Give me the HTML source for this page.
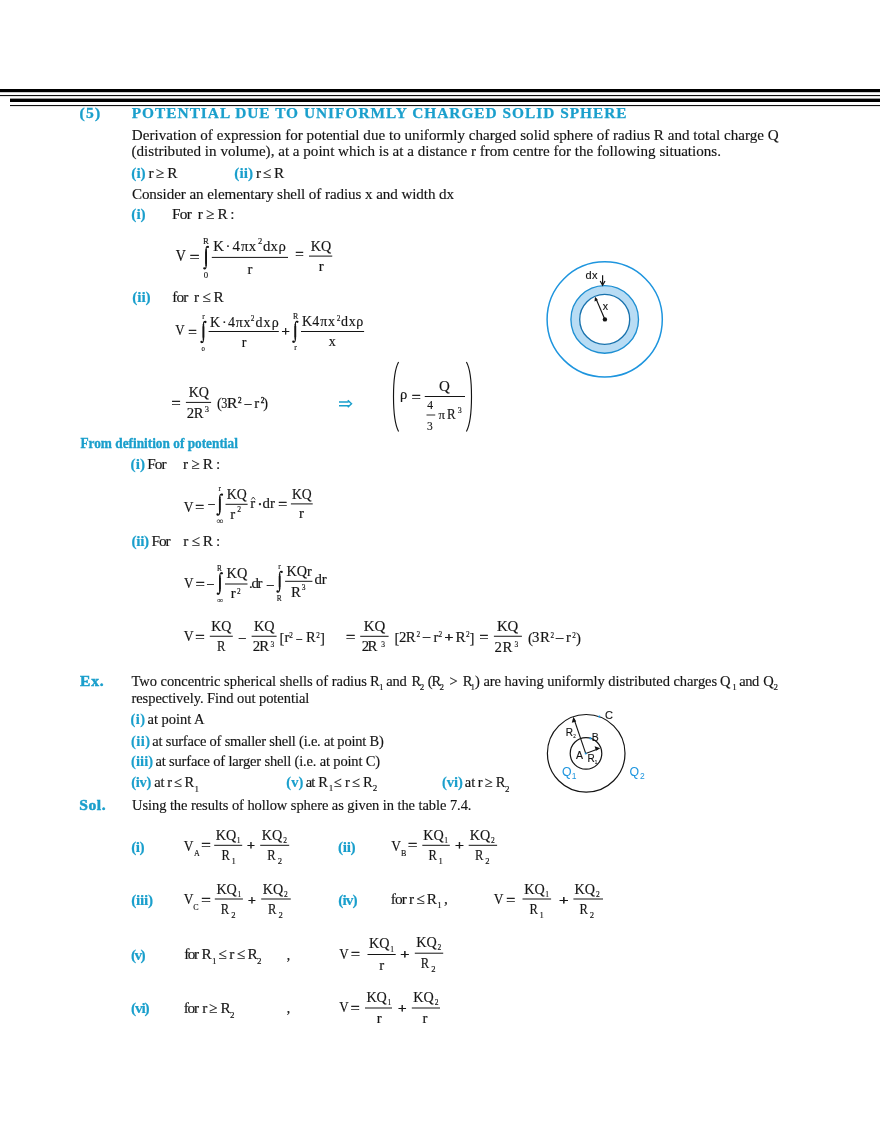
<!DOCTYPE html>
<html><head><meta charset="utf-8"><title>Potential due to uniformly charged solid sphere</title>
<style>
html,body{margin:0;padding:0;background:#fff;}
body{width:880px;height:1139px;overflow:hidden;}
svg{display:block;will-change:transform;font-family:"Liberation Serif",serif;font-size:15.3px;fill:#141414;}
</style></head>
<body>
<svg width="880" height="1139" viewBox="0 0 880 1139">
<rect x="0" y="89" width="880" height="3.2" fill="#000"/>
<rect x="0" y="95" width="880" height="1.1" fill="#111"/>
<rect x="10" y="98.6" width="870" height="3.4" fill="#000"/>
<rect x="10" y="105" width="870" height="1.1" fill="#111"/>
<text x="79.54" y="117.70" font-size="15.6" fill="#1a9fcc" font-weight="bold" textLength="20.64" stroke="#1a9fcc" stroke-width="0.35">(5)</text>
<text x="131.73" y="118.00" font-size="15.4" fill="#1a9fcc" font-weight="bold" textLength="494.86" stroke="#1a9fcc" stroke-width="0.25">POTENTIAL DUE TO UNIFORMLY CHARGED SOLID SPHERE</text>
<text x="131.78" y="139.60" font-size="15.1" textLength="646.99" stroke="#141414" stroke-width="0.15">Derivation of expression for potential due to uniformly charged solid sphere of radius R and total charge Q</text>
<text x="131.56" y="155.70" font-size="15.1" textLength="589.42" stroke="#141414" stroke-width="0.15">(distributed in volume), at a point which is at a distance r from centre for the following situations.</text>
<text x="131.35" y="178.25" fill="#1a9fcc" font-weight="bold" textLength="14.32" stroke="#1a9fcc" stroke-width="0.18">(i)</text>
<text x="148.44" y="178.25" stroke="#141414" stroke-width="0.15">r</text>
<text x="155.79" y="178.25" stroke="#141414" stroke-width="0.15">≥</text>
<text x="167.18" y="178.25" stroke="#141414" stroke-width="0.15">R</text>
<text x="234.35" y="178.25" fill="#1a9fcc" font-weight="bold" textLength="18.83" stroke="#1a9fcc" stroke-width="0.18">(ii)</text>
<text x="255.89" y="178.25" stroke="#141414" stroke-width="0.15">r</text>
<text x="262.75" y="178.25" stroke="#141414" stroke-width="0.15">≤</text>
<text x="273.98" y="178.25" stroke="#141414" stroke-width="0.15">R</text>
<text x="131.90" y="198.75" font-size="15.1" textLength="322.18" stroke="#141414" stroke-width="0.15">Consider an elementary shell of radius x and width dx</text>
<text x="131.35" y="219.25" fill="#1a9fcc" font-weight="bold" textLength="14.32" stroke="#1a9fcc" stroke-width="0.18">(i)</text>
<text x="172.08" y="219.25" textLength="19.66" stroke="#141414" stroke-width="0.15">For</text>
<text x="197.69" y="219.25" stroke="#141414" stroke-width="0.15">r</text>
<text x="205.99" y="219.25" stroke="#141414" stroke-width="0.15">≥</text>
<text x="217.38" y="219.25" stroke="#141414" stroke-width="0.15">R</text>
<text x="230.18" y="219.25" stroke="#141414" stroke-width="0.15">:</text>
<text x="175.74" y="261.10" font-size="16" textLength="10.05" lengthAdjust="spacingAndGlyphs" stroke="#141414" stroke-width="0.15">V</text>
<text x="189.85" y="262.19" font-size="15" textLength="9.68" lengthAdjust="spacingAndGlyphs" stroke="#141414" stroke-width="0.45">=</text>
<path d="M207.90,246.95 C207.20,245.95 206.10,246.55 206.10,249.35 L206.10,265.90 C206.10,268.70 205.00,269.30 204.30,268.30" fill="none" stroke="#141414" stroke-width="1.15"/>
<path d="M206.10,249.73 L206.10,265.52" fill="none" stroke="#141414" stroke-width="1.40" stroke-linecap="round"/>
<path d="M206.10,252.07 L206.10,263.18" fill="none" stroke="#141414" stroke-width="1.65" stroke-linecap="round"/>
<circle cx="207.90" cy="246.95" r="1.15" fill="#141414"/>
<circle cx="204.30" cy="268.30" r="1.15" fill="#141414"/>
<text x="203.06" y="243.70" font-size="8.7" stroke="#141414" stroke-width="0.14">R</text>
<text x="203.67" y="278.40" font-size="8.8" stroke="#141414" stroke-width="0.14">0</text>
<rect x="211.80" y="256.90" width="76.20" height="1.0" fill="#141414"/>
<text x="213.19" y="251.20" font-size="14.8" stroke="#141414" stroke-width="0.15">K</text>
<text x="225.41" y="251.20" font-size="14.8" stroke="#141414" stroke-width="0.15">·</text>
<text x="232.40" y="251.20" font-size="14.8" stroke="#141414" stroke-width="0.15">4</text>
<text x="241.01" y="251.20" font-size="14.8" stroke="#141414" stroke-width="0.15">π</text>
<text x="248.69" y="251.20" font-size="14.8" stroke="#141414" stroke-width="0.15">x</text>
<text x="258.04" y="244.20" font-size="8.5" stroke="#141414" stroke-width="0.14">2</text>
<text x="263.08" y="251.20" font-size="14.8" stroke="#141414" stroke-width="0.15">d</text>
<text x="270.39" y="251.20" font-size="14.8" stroke="#141414" stroke-width="0.15">x</text>
<text x="278.54" y="251.20" font-size="14.8" stroke="#141414" stroke-width="0.15">ρ</text>
<text x="247.55" y="273.70" font-size="14.8" stroke="#141414" stroke-width="0.15">r</text>
<text x="295.25" y="259.49" font-size="15" textLength="8.48" lengthAdjust="spacingAndGlyphs" stroke="#141414" stroke-width="0.45">=</text>
<rect x="309.00" y="255.60" width="23.25" height="1.0" fill="#141414"/>
<text x="310.84" y="250.50" font-size="14.8" textLength="20.41" lengthAdjust="spacingAndGlyphs" stroke="#141414" stroke-width="0.15">KQ</text>
<text x="318.70" y="271.25" font-size="14.8" stroke="#141414" stroke-width="0.15">r</text>
<text x="132.15" y="302.20" fill="#1a9fcc" font-weight="bold" textLength="18.53" stroke="#1a9fcc" stroke-width="0.18">(ii)</text>
<text x="172.14" y="302.20" textLength="16.19" stroke="#141414" stroke-width="0.15">for</text>
<text x="194.09" y="302.20" textLength="29.63" stroke="#141414" stroke-width="0.15">r ≤ R</text>
<text x="175.26" y="335.40" font-size="14" textLength="9.41" lengthAdjust="spacingAndGlyphs" stroke="#141414" stroke-width="0.15">V</text>
<text x="188.28" y="336.82" font-size="14.5" textLength="8.54" lengthAdjust="spacingAndGlyphs" stroke="#141414" stroke-width="0.45">=</text>
<path d="M205.40,322.00 C204.70,321.00 203.45,321.60 203.45,324.40 L203.45,339.60 C203.45,342.40 202.20,343.00 201.50,342.00" fill="none" stroke="#141414" stroke-width="1.15"/>
<path d="M203.45,324.60 L203.45,339.40" fill="none" stroke="#141414" stroke-width="1.40" stroke-linecap="round"/>
<path d="M203.45,326.80 L203.45,337.20" fill="none" stroke="#141414" stroke-width="1.65" stroke-linecap="round"/>
<circle cx="205.40" cy="322.00" r="1.15" fill="#141414"/>
<circle cx="201.50" cy="342.00" r="1.15" fill="#141414"/>
<text x="202.35" y="319.30" font-size="7.5" stroke="#141414" stroke-width="0.14">r</text>
<text x="201.55" y="350.90" font-size="6.8" stroke="#141414" stroke-width="0.14">0</text>
<rect x="208.60" y="331.00" width="70.20" height="1.0" fill="#141414"/>
<text x="210.12" y="326.50" font-size="14" stroke="#141414" stroke-width="0.15">K</text>
<text x="222.09" y="326.50" font-size="14" stroke="#141414" stroke-width="0.15">·</text>
<text x="227.92" y="326.50" font-size="14" stroke="#141414" stroke-width="0.15">4</text>
<text x="235.72" y="326.50" font-size="14" stroke="#141414" stroke-width="0.15">π</text>
<text x="243.50" y="326.50" font-size="14" stroke="#141414" stroke-width="0.15">x</text>
<text x="250.79" y="321.20" font-size="7.4" stroke="#141414" stroke-width="0.14">2</text>
<text x="255.41" y="326.50" font-size="14" textLength="23.34" stroke="#141414" stroke-width="0.15">dxρ</text>
<text x="241.69" y="346.50" font-size="14" stroke="#141414" stroke-width="0.15">r</text>
<text x="281.55" y="336.02" font-size="13" textLength="8.29" lengthAdjust="spacingAndGlyphs" stroke="#141414" stroke-width="0.45">+</text>
<path d="M297.40,321.80 C296.70,320.80 295.35,321.40 295.35,324.20 L295.35,339.30 C295.35,342.10 294.00,342.70 293.30,341.70" fill="none" stroke="#141414" stroke-width="1.15"/>
<path d="M295.35,324.39 L295.35,339.11" fill="none" stroke="#141414" stroke-width="1.40" stroke-linecap="round"/>
<path d="M295.35,326.58 L295.35,336.92" fill="none" stroke="#141414" stroke-width="1.65" stroke-linecap="round"/>
<circle cx="297.40" cy="321.80" r="1.15" fill="#141414"/>
<circle cx="293.30" cy="341.70" r="1.15" fill="#141414"/>
<text x="293.09" y="319.20" font-size="7.8" stroke="#141414" stroke-width="0.14">R</text>
<text x="294.14" y="350.40" font-size="7.8" stroke="#141414" stroke-width="0.14">r</text>
<rect x="301.00" y="331.00" width="63.10" height="1.0" fill="#141414"/>
<text x="302.12" y="326.40" font-size="14" stroke="#141414" stroke-width="0.15">K</text>
<text x="312.22" y="326.40" font-size="14" stroke="#141414" stroke-width="0.15">4</text>
<text x="320.22" y="326.40" font-size="14" stroke="#141414" stroke-width="0.15">π</text>
<text x="327.89" y="326.40" font-size="14" stroke="#141414" stroke-width="0.15">x</text>
<text x="336.69" y="321.20" font-size="7.4" stroke="#141414" stroke-width="0.14">2</text>
<text x="340.91" y="326.40" font-size="14" textLength="22.44" stroke="#141414" stroke-width="0.15">dxρ</text>
<text x="328.69" y="346.30" font-size="14" stroke="#141414" stroke-width="0.15">x</text>
<text x="171.47" y="408.12" font-size="14.5" textLength="9.14" lengthAdjust="spacingAndGlyphs" stroke="#141414" stroke-width="0.45">=</text>
<rect x="185.90" y="401.90" width="25.20" height="1.0" fill="#141414"/>
<text x="188.69" y="396.90" font-size="14.8" textLength="20.26" lengthAdjust="spacingAndGlyphs" stroke="#141414" stroke-width="0.15">KQ</text>
<text x="186.77" y="417.90" font-size="14.8" stroke="#141414" stroke-width="0.15">2</text>
<text x="193.84" y="417.90" font-size="14.8" textLength="9.69" lengthAdjust="spacingAndGlyphs" stroke="#141414" stroke-width="0.15">R</text>
<text x="204.80" y="411.60" font-size="8.5" stroke="#141414" stroke-width="0.14">3</text>
<text x="216.89" y="408.00" font-size="14.3" stroke="#141414" stroke-width="0.15">(</text>
<text x="221.20" y="407.60" font-size="14.8" textLength="6.09" lengthAdjust="spacingAndGlyphs" stroke="#141414" stroke-width="0.15">3</text>
<text x="226.89" y="407.60" font-size="14.8" textLength="10.74" lengthAdjust="spacingAndGlyphs" stroke="#141414" stroke-width="0.15">R</text>
<text x="237.89" y="402.90" font-size="7.2" stroke="#141414" stroke-width="0.35">2</text>
<text x="244.81" y="407.64" font-size="14.8" textLength="6.58" lengthAdjust="spacingAndGlyphs" stroke="#141414" stroke-width="0.45">–</text>
<text x="254.30" y="407.60" font-size="14.8" stroke="#141414" stroke-width="0.15">r</text>
<text x="260.79" y="402.90" font-size="7.2" stroke="#141414" stroke-width="0.35">2</text>
<text x="263.34" y="408.00" font-size="14.3" stroke="#141414" stroke-width="0.15">)</text>
<path d="M339,402 H348.6 M339,405.65 H348.6 M347.8,400.2 L351.5,403.8 L347.8,407.3" fill="none" stroke="#1a9fcc" stroke-width="1.45"/>
<path d="M398.6,362 C391.8,374 391.8,419 398.6,431.5" fill="none" stroke="#141414" stroke-width="1.15"/>
<path d="M466.4,362 C473.2,374 473.2,419 466.4,431.5" fill="none" stroke="#141414" stroke-width="1.15"/>
<text x="399.95" y="399.40" font-size="14.6" stroke="#141414" stroke-width="0.15">ρ</text>
<text x="411.77" y="401.72" font-size="14.5" textLength="9.04" lengthAdjust="spacingAndGlyphs" stroke="#141414" stroke-width="0.45">=</text>
<rect x="424.75" y="396.00" width="40.25" height="1.0" fill="#141414"/>
<text x="438.93" y="391.40" font-size="14.3" textLength="10.82" lengthAdjust="spacingAndGlyphs" stroke="#141414" stroke-width="0.15">Q</text>
<text x="427.17" y="409.40" font-size="11.6" stroke="#141414" stroke-width="0.15">4</text>
<rect x="426.50" y="414.55" width="8.75" height="0.9" fill="#141414"/>
<text x="426.95" y="430.00" font-size="11.5" stroke="#141414" stroke-width="0.15">3</text>
<text x="438.59" y="418.75" font-size="12.8" textLength="6.60" stroke="#141414" stroke-width="0.15">π</text>
<text x="446.90" y="418.75" font-size="14.6" textLength="8.63" lengthAdjust="spacingAndGlyphs" stroke="#141414" stroke-width="0.15">R</text>
<text x="457.72" y="413.20" font-size="8" stroke="#141414" stroke-width="0.14">3</text>
<circle cx="604.7" cy="319.4" r="57.6" fill="none" stroke="#1e95de" stroke-width="1.5"/>
<circle cx="604.7" cy="319.4" r="29.5" fill="none" stroke="#b8dcf4" stroke-width="8.6"/>
<circle cx="604.7" cy="319.4" r="33.8" fill="none" stroke="#1e8fd2" stroke-width="1.35"/>
<circle cx="604.7" cy="319.4" r="25" fill="none" stroke="#1872ad" stroke-width="1.35"/>
<circle cx="604.9" cy="319.4" r="2.2" fill="#141414"/>
<line x1="604.9" y1="319.4" x2="595.9" y2="298.6" stroke="#141414" stroke-width="1.15"/>
<path d="M595.0,296.7 L594.5,301.4 L597.9,300.0 Z" fill="#141414"/>
<text x="602.87" y="310.10" font-size="10.5" font-family="Liberation Sans" stroke="#141414" stroke-width="0.15">x</text>
<text x="585.43" y="279.20" font-size="11" font-family="Liberation Sans" textLength="12.02" stroke="#141414" stroke-width="0.15">dx</text>
<line x1="602.6" y1="275.2" x2="602.6" y2="284.5" stroke="#141414" stroke-width="1.2"/>
<path d="M600.2,281.0 L602.6,285.2 L605.0,281.0" fill="none" stroke="#141414" stroke-width="1.2"/>
<text x="80.44" y="447.60" font-size="14.6" fill="#1a9fcc" font-weight="bold" textLength="157.41" lengthAdjust="spacingAndGlyphs" stroke="#1a9fcc" stroke-width="0.35">From definition of potential</text>
<text x="130.55" y="468.90" fill="#1a9fcc" font-weight="bold" textLength="14.62" stroke="#1a9fcc" stroke-width="0.18">(i)</text>
<text x="147.18" y="468.90" textLength="19.46" stroke="#141414" stroke-width="0.15">For</text>
<text x="183.09" y="468.90" textLength="37.12" stroke="#141414" stroke-width="0.15">r ≥ R :</text>
<text x="183.85" y="511.70" font-size="14.8" textLength="9.73" lengthAdjust="spacingAndGlyphs" stroke="#141414" stroke-width="0.15">V</text>
<text x="195.18" y="512.02" font-size="14.5" textLength="8.84" lengthAdjust="spacingAndGlyphs" stroke="#141414" stroke-width="0.45">=</text>
<text x="208.51" y="507.74" font-size="14.8" textLength="6.08" lengthAdjust="spacingAndGlyphs" stroke="#141414" stroke-width="0.45">–</text>
<path d="M222.00,494.70 C221.30,493.70 219.75,494.30 219.75,497.10 L219.75,512.10 C219.75,514.90 218.20,515.50 217.50,514.50" fill="none" stroke="#141414" stroke-width="1.15"/>
<path d="M219.75,497.27 L219.75,511.93" fill="none" stroke="#141414" stroke-width="1.40" stroke-linecap="round"/>
<path d="M219.75,499.45 L219.75,509.75" fill="none" stroke="#141414" stroke-width="1.65" stroke-linecap="round"/>
<circle cx="222.00" cy="494.70" r="1.15" fill="#141414"/>
<circle cx="217.50" cy="514.50" r="1.15" fill="#141414"/>
<text x="218.45" y="491.25" font-size="7.5" stroke="#141414" stroke-width="0.14">r</text>
<text x="216.56" y="523.71" font-size="9" textLength="6.98" lengthAdjust="spacingAndGlyphs" stroke="#141414" stroke-width="0.1">∞</text>
<rect x="225.50" y="503.80" width="22.10" height="1.0" fill="#141414"/>
<text x="226.79" y="498.90" font-size="14.8" textLength="19.96" lengthAdjust="spacingAndGlyphs" stroke="#141414" stroke-width="0.15">KQ</text>
<text x="230.20" y="519.20" font-size="14.8" stroke="#141414" stroke-width="0.15">r</text>
<text x="237.28" y="511.60" font-size="7.6" stroke="#141414" stroke-width="0.14">2</text>
<text x="250.30" y="507.70" font-size="14.8" stroke="#141414" stroke-width="0.15">r</text>
<path d="M251.30,499.60 L253.25,497.00 L255.20,499.60" fill="none" stroke="#141414" stroke-width="0.8"/>
<text x="257.61" y="508.90" font-size="14.8" stroke="#141414" stroke-width="0.45">·</text>
<text x="262.48" y="507.70" font-size="14.8" textLength="12.54" stroke="#141414" stroke-width="0.15">dr</text>
<text x="278.17" y="509.32" font-size="14.5" textLength="8.84" lengthAdjust="spacingAndGlyphs" stroke="#141414" stroke-width="0.45">=</text>
<rect x="290.90" y="503.40" width="21.80" height="1.0" fill="#141414"/>
<text x="291.89" y="499.00" font-size="14.8" textLength="19.76" lengthAdjust="spacingAndGlyphs" stroke="#141414" stroke-width="0.15">KQ</text>
<text x="298.95" y="518.40" font-size="14.8" stroke="#141414" stroke-width="0.15">r</text>
<text x="131.45" y="546.10" fill="#1a9fcc" font-weight="bold" textLength="17.73" stroke="#1a9fcc" stroke-width="0.18">(ii)</text>
<text x="151.38" y="546.10" textLength="19.26" stroke="#141414" stroke-width="0.15">For</text>
<text x="183.29" y="546.10" textLength="36.92" stroke="#141414" stroke-width="0.15">r ≤ R :</text>
<text x="183.95" y="588.10" font-size="14.8" textLength="9.53" lengthAdjust="spacingAndGlyphs" stroke="#141414" stroke-width="0.15">V</text>
<text x="195.68" y="589.12" font-size="14.5" textLength="9.04" lengthAdjust="spacingAndGlyphs" stroke="#141414" stroke-width="0.45">=</text>
<text x="207.21" y="588.44" font-size="14.8" textLength="6.38" lengthAdjust="spacingAndGlyphs" stroke="#141414" stroke-width="0.45">–</text>
<path d="M221.90,573.30 C221.20,572.30 219.85,572.90 219.85,575.70 L219.85,591.30 C219.85,594.10 218.50,594.70 217.80,593.70" fill="none" stroke="#141414" stroke-width="1.15"/>
<path d="M219.85,575.95 L219.85,591.05" fill="none" stroke="#141414" stroke-width="1.40" stroke-linecap="round"/>
<path d="M219.85,578.20 L219.85,588.80" fill="none" stroke="#141414" stroke-width="1.65" stroke-linecap="round"/>
<circle cx="221.90" cy="573.30" r="1.15" fill="#141414"/>
<circle cx="217.80" cy="593.70" r="1.15" fill="#141414"/>
<text x="217.10" y="571.00" font-size="7.2" stroke="#141414" stroke-width="0.14">R</text>
<text x="216.98" y="603.07" font-size="8.5" textLength="6.34" lengthAdjust="spacingAndGlyphs" stroke="#141414" stroke-width="0.1">∞</text>
<rect x="225.00" y="583.50" width="22.50" height="1.0" fill="#141414"/>
<text x="226.59" y="578.40" font-size="14.8" textLength="20.66" lengthAdjust="spacingAndGlyphs" stroke="#141414" stroke-width="0.15">KQ</text>
<text x="230.80" y="598.40" font-size="14.8" stroke="#141414" stroke-width="0.15">r</text>
<text x="236.99" y="594.30" font-size="7.3" stroke="#141414" stroke-width="0.14">2</text>
<text x="249.04" y="587.60" font-size="14.8" textLength="13.38" stroke="#141414" stroke-width="0.15">.dr</text>
<text x="266.91" y="588.54" font-size="14.8" textLength="6.58" lengthAdjust="spacingAndGlyphs" stroke="#141414" stroke-width="0.45">–</text>
<path d="M281.70,571.90 C281.00,570.90 279.60,571.50 279.60,574.30 L279.60,589.10 C279.60,591.90 278.20,592.50 277.50,591.50" fill="none" stroke="#141414" stroke-width="1.15"/>
<path d="M279.60,574.45 L279.60,588.95" fill="none" stroke="#141414" stroke-width="1.40" stroke-linecap="round"/>
<path d="M279.60,576.60 L279.60,586.80" fill="none" stroke="#141414" stroke-width="1.65" stroke-linecap="round"/>
<circle cx="281.70" cy="571.90" r="1.15" fill="#141414"/>
<circle cx="277.50" cy="591.50" r="1.15" fill="#141414"/>
<text x="278.15" y="568.50" font-size="7.5" stroke="#141414" stroke-width="0.14">r</text>
<text x="276.80" y="600.50" font-size="7.3" stroke="#141414" stroke-width="0.14">R</text>
<rect x="285.10" y="580.80" width="27.30" height="1.0" fill="#141414"/>
<text x="286.39" y="575.80" font-size="14.8" textLength="25.32" lengthAdjust="spacingAndGlyphs" stroke="#141414" stroke-width="0.15">KQr</text>
<text x="291.09" y="596.60" font-size="14.8" stroke="#141414" stroke-width="0.15">R</text>
<text x="301.84" y="589.60" font-size="7.6" stroke="#141414" stroke-width="0.14">3</text>
<text x="314.48" y="584.30" font-size="14.8" textLength="12.14" stroke="#141414" stroke-width="0.15">dr</text>
<text x="183.85" y="641.10" font-size="14.8" textLength="9.93" lengthAdjust="spacingAndGlyphs" stroke="#141414" stroke-width="0.15">V</text>
<text x="195.18" y="642.02" font-size="14.5" textLength="9.44" lengthAdjust="spacingAndGlyphs" stroke="#141414" stroke-width="0.45">=</text>
<rect x="209.80" y="635.75" width="23.00" height="1.0" fill="#141414"/>
<text x="211.19" y="630.90" font-size="14.8" textLength="20.16" lengthAdjust="spacingAndGlyphs" stroke="#141414" stroke-width="0.15">KQ</text>
<text x="217.09" y="651.40" font-size="14.8" textLength="8.44" lengthAdjust="spacingAndGlyphs" stroke="#141414" stroke-width="0.15">R</text>
<text x="239.01" y="641.74" font-size="14.8" textLength="6.58" lengthAdjust="spacingAndGlyphs" stroke="#141414" stroke-width="0.45">–</text>
<rect x="251.60" y="635.75" width="25.00" height="1.0" fill="#141414"/>
<text x="253.99" y="630.90" font-size="14.8" textLength="20.56" lengthAdjust="spacingAndGlyphs" stroke="#141414" stroke-width="0.15">KQ</text>
<text x="252.67" y="651.40" font-size="14.8" textLength="16.56" stroke="#141414" stroke-width="0.15">2R</text>
<text x="270.54" y="647.40" font-size="7.5" stroke="#141414" stroke-width="0.14">3</text>
<text x="279.59" y="642.60" font-size="14.8" stroke="#141414" stroke-width="0.15">[</text>
<text x="284.60" y="642.00" font-size="14.8" stroke="#141414" stroke-width="0.15">r</text>
<text x="289.29" y="637.70" font-size="7.2" stroke="#141414" stroke-width="0.14">2</text>
<text x="296.41" y="642.84" font-size="14.8" textLength="5.48" lengthAdjust="spacingAndGlyphs" stroke="#141414" stroke-width="0.45">–</text>
<text x="305.89" y="642.00" font-size="14.8" textLength="9.64" lengthAdjust="spacingAndGlyphs" stroke="#141414" stroke-width="0.15">R</text>
<text x="316.19" y="637.70" font-size="7.2" stroke="#141414" stroke-width="0.14">2</text>
<text x="319.98" y="642.60" font-size="14.8" stroke="#141414" stroke-width="0.15">]</text>
<text x="345.97" y="641.82" font-size="14.5" textLength="9.24" lengthAdjust="spacingAndGlyphs" stroke="#141414" stroke-width="0.45">=</text>
<rect x="360.20" y="635.80" width="28.40" height="1.0" fill="#141414"/>
<text x="363.79" y="630.60" font-size="14.8" textLength="21.56" lengthAdjust="spacingAndGlyphs" stroke="#141414" stroke-width="0.15">KQ</text>
<text x="361.77" y="651.20" font-size="14.8" textLength="15.56" stroke="#141414" stroke-width="0.15">2R</text>
<text x="381.14" y="646.80" font-size="7.5" stroke="#141414" stroke-width="0.14">3</text>
<text x="394.59" y="642.60" font-size="14.8" stroke="#141414" stroke-width="0.15">[</text>
<text x="399.07" y="641.70" font-size="14.8" textLength="16.56" stroke="#141414" stroke-width="0.15">2R</text>
<text x="416.39" y="637.20" font-size="7.4" stroke="#141414" stroke-width="0.14">2</text>
<text x="423.11" y="641.14" font-size="14.8" textLength="7.08" lengthAdjust="spacingAndGlyphs" stroke="#141414" stroke-width="0.45">–</text>
<text x="433.50" y="641.70" font-size="14.8" stroke="#141414" stroke-width="0.15">r</text>
<text x="438.59" y="637.20" font-size="7.4" stroke="#141414" stroke-width="0.14">2</text>
<text x="444.48" y="641.86" font-size="12.5" textLength="8.84" lengthAdjust="spacingAndGlyphs" stroke="#141414" stroke-width="0.45">+</text>
<text x="455.49" y="641.70" font-size="14.8" textLength="10.14" lengthAdjust="spacingAndGlyphs" stroke="#141414" stroke-width="0.15">R</text>
<text x="466.09" y="637.20" font-size="7.4" stroke="#141414" stroke-width="0.14">2</text>
<text x="469.58" y="642.60" font-size="14.8" stroke="#141414" stroke-width="0.15">]</text>
<text x="479.57" y="642.02" font-size="14.5" textLength="8.84" lengthAdjust="spacingAndGlyphs" stroke="#141414" stroke-width="0.45">=</text>
<rect x="493.90" y="635.75" width="28.00" height="1.0" fill="#141414"/>
<text x="496.89" y="630.90" font-size="14.8" textLength="21.36" lengthAdjust="spacingAndGlyphs" stroke="#141414" stroke-width="0.15">KQ</text>
<text x="494.57" y="651.60" font-size="14.8" textLength="17.76" stroke="#141414" stroke-width="0.15">2R</text>
<text x="514.44" y="646.80" font-size="7.5" stroke="#141414" stroke-width="0.14">3</text>
<text x="528.12" y="642.60" font-size="14.8" stroke="#141414" stroke-width="0.15">(</text>
<text x="532.00" y="641.70" font-size="14.8" textLength="17.83" stroke="#141414" stroke-width="0.15">3R</text>
<text x="550.59" y="637.70" font-size="7.2" stroke="#141414" stroke-width="0.14">2</text>
<text x="556.11" y="641.74" font-size="14.8" textLength="7.18" lengthAdjust="spacingAndGlyphs" stroke="#141414" stroke-width="0.45">–</text>
<text x="565.95" y="641.70" font-size="14.8" stroke="#141414" stroke-width="0.15">r</text>
<text x="572.19" y="637.70" font-size="7.2" stroke="#141414" stroke-width="0.14">2</text>
<text x="576.02" y="642.60" font-size="14.8" stroke="#141414" stroke-width="0.15">)</text>
<text x="80.03" y="685.70" font-size="15.6" fill="#1a9fcc" font-weight="bold" textLength="23.63" stroke="#1a9fcc" stroke-width="0.5">Ex.</text>
<text x="131.45" y="685.70" font-size="14.5" textLength="235.49" stroke="#141414" stroke-width="0.15">Two concentric spherical shells of radius</text>
<text x="370.10" y="685.60" font-size="14.5" stroke="#141414" stroke-width="0.15">R</text>
<text x="378.91" y="690.40" font-size="9" stroke="#141414" stroke-width="0.14">1</text>
<text x="386.29" y="685.70" font-size="14.5" textLength="20.47" stroke="#141414" stroke-width="0.15">and</text>
<text x="411.60" y="685.60" font-size="14.5" stroke="#141414" stroke-width="0.15">R</text>
<text x="419.82" y="690.40" font-size="9" stroke="#141414" stroke-width="0.14">2</text>
<text x="427.78" y="685.70" font-size="14.5" stroke="#141414" stroke-width="0.15">(</text>
<text x="431.40" y="685.60" font-size="14.5" stroke="#141414" stroke-width="0.15">R</text>
<text x="439.62" y="690.40" font-size="9" stroke="#141414" stroke-width="0.14">2</text>
<text x="449.47" y="685.70" font-size="14.5" textLength="10.30" stroke="#141414" stroke-width="0.15">&gt;</text>
<text x="462.80" y="685.60" font-size="14.5" stroke="#141414" stroke-width="0.15">R</text>
<text x="470.61" y="690.40" font-size="9" stroke="#141414" stroke-width="0.14">1</text>
<text x="475.03" y="685.70" font-size="14.5" textLength="242.09" stroke="#141414" stroke-width="0.15">) are having uniformly distributed charges</text>
<text x="719.92" y="685.70" font-size="14.5" stroke="#141414" stroke-width="0.15">Q</text>
<text x="732.21" y="690.30" font-size="9" stroke="#141414" stroke-width="0.14">1</text>
<text x="739.29" y="685.70" font-size="14.5" textLength="19.97" stroke="#141414" stroke-width="0.15">and</text>
<text x="763.32" y="685.70" font-size="14.5" stroke="#141414" stroke-width="0.15">Q</text>
<text x="773.62" y="690.30" font-size="9" stroke="#141414" stroke-width="0.14">2</text>
<text x="131.41" y="702.90" font-size="14.5" textLength="177.88" stroke="#141414" stroke-width="0.15">respectively. Find out potential</text>
<text x="130.48" y="724.10" font-size="14.5" fill="#1a9fcc" font-weight="bold" textLength="14.65" stroke="#1a9fcc" stroke-width="0.18">(i)</text>
<text x="147.49" y="724.10" font-size="14.5" textLength="57.11" stroke="#141414" stroke-width="0.15">at point A</text>
<text x="131.08" y="745.50" font-size="14.5" fill="#1a9fcc" font-weight="bold" textLength="19.06" stroke="#1a9fcc" stroke-width="0.18">(ii)</text>
<text x="152.29" y="745.50" font-size="14.5" textLength="231.54" stroke="#141414" stroke-width="0.15">at surface of smaller shell (i.e. at point B)</text>
<text x="131.08" y="766.40" font-size="14.5" fill="#1a9fcc" font-weight="bold" textLength="22.03" stroke="#1a9fcc" stroke-width="0.18">(iii)</text>
<text x="155.39" y="766.40" font-size="14.5" textLength="224.74" stroke="#141414" stroke-width="0.15">at surface of larger shell (i.e. at point C)</text>
<text x="131.28" y="786.60" font-size="14.5" fill="#1a9fcc" font-weight="bold" textLength="20.05" stroke="#1a9fcc" stroke-width="0.18">(iv)</text>
<text x="154.29" y="786.60" font-size="14.5" textLength="10.17" stroke="#141414" stroke-width="0.15">at</text>
<text x="167.21" y="786.60" font-size="14.5" stroke="#141414" stroke-width="0.15">r</text>
<text x="174.18" y="786.60" font-size="14.5" stroke="#141414" stroke-width="0.15">≤</text>
<text x="184.40" y="786.60" font-size="14.5" stroke="#141414" stroke-width="0.15">R</text>
<text x="194.51" y="791.50" font-size="9" stroke="#141414" stroke-width="0.14">1</text>
<text x="286.18" y="786.60" font-size="14.5" fill="#1a9fcc" font-weight="bold" textLength="17.20" stroke="#1a9fcc" stroke-width="0.18">(v)</text>
<text x="305.69" y="786.60" font-size="14.5" textLength="9.62" stroke="#141414" stroke-width="0.15">at</text>
<text x="318.30" y="786.60" font-size="14.5" stroke="#141414" stroke-width="0.15">R</text>
<text x="333.98" y="786.60" font-size="14.5" stroke="#141414" stroke-width="0.15">≤</text>
<text x="345.11" y="786.60" font-size="14.5" stroke="#141414" stroke-width="0.15">r</text>
<text x="352.13" y="786.60" font-size="14.5" stroke="#141414" stroke-width="0.15">≤</text>
<text x="363.10" y="786.60" font-size="14.5" stroke="#141414" stroke-width="0.15">R</text>
<text x="328.71" y="791.30" font-size="9" stroke="#141414" stroke-width="0.14">1</text>
<text x="372.82" y="791.30" font-size="9" stroke="#141414" stroke-width="0.14">2</text>
<text x="441.88" y="786.60" font-size="14.5" fill="#1a9fcc" font-weight="bold" textLength="20.85" stroke="#1a9fcc" stroke-width="0.18">(vi)</text>
<text x="464.79" y="786.60" font-size="14.5" textLength="10.57" stroke="#141414" stroke-width="0.15">at</text>
<text x="477.71" y="786.60" font-size="14.5" stroke="#141414" stroke-width="0.15">r</text>
<text x="485.12" y="786.60" font-size="14.5" stroke="#141414" stroke-width="0.15">≥</text>
<text x="495.80" y="786.60" font-size="14.5" stroke="#141414" stroke-width="0.15">R</text>
<text x="504.92" y="791.50" font-size="9" stroke="#141414" stroke-width="0.14">2</text>
<circle cx="586.2" cy="753.3" r="38.8" fill="none" stroke="#141414" stroke-width="1.2"/>
<circle cx="586" cy="753.4" r="15.8" fill="none" stroke="#141414" stroke-width="1.2"/>
<line x1="585.7" y1="753.4" x2="574" y2="719" stroke="#141414" stroke-width="1.1"/>
<path d="M573.4,716.8 L571.8,722.8 L576.2,721.4 Z" fill="#141414"/>
<line x1="585.7" y1="753.4" x2="598" y2="749" stroke="#141414" stroke-width="1.1"/>
<path d="M600.3,748.3 L594.6,746.2 L596,750.7 Z" fill="#141414"/>
<circle cx="585.7" cy="753.4" r="1" fill="#1e95de"/>
<circle cx="590.5" cy="738.4" r="1.1" fill="#1e95de"/>
<circle cx="599.3" cy="716.6" r="1.1" fill="#1e95de"/>
<text x="604.95" y="719.30" font-size="11" font-family="Liberation Sans" stroke="#141414" stroke-width="0.15">C</text>
<text x="591.63" y="740.50" font-size="10.5" font-family="Liberation Sans" stroke="#141414" stroke-width="0.1">B</text>
<text x="576.07" y="758.90" font-size="10.5" font-family="Liberation Sans" stroke="#141414" stroke-width="0.15">A</text>
<text x="565.77" y="735.70" font-size="10" font-family="Liberation Sans" stroke="#141414" stroke-width="0.15">R</text>
<text x="573.17" y="737.70" font-size="4.6" font-family="Liberation Sans" stroke="#141414" stroke-width="0.1">2</text>
<text x="587.57" y="762.30" font-size="10" font-family="Liberation Sans" stroke="#141414" stroke-width="0.15">R</text>
<text x="594.86" y="764.00" font-size="4.6" font-family="Liberation Sans" stroke="#141414" stroke-width="0.1">1</text>
<text x="561.92" y="776.10" font-size="12.3" fill="#1e95de" font-family="Liberation Sans" stroke="#1e95de" stroke-width="0.05">Q</text>
<text x="571.76" y="778.60" font-size="8.5" fill="#1e95de" font-family="Liberation Sans">1</text>
<text x="629.42" y="776.10" font-size="12.3" fill="#1e95de" font-family="Liberation Sans" stroke="#1e95de" stroke-width="0.05">Q</text>
<text x="639.88" y="778.60" font-size="8.5" fill="#1e95de" font-family="Liberation Sans">2</text>
<text x="79.28" y="809.50" font-size="15.6" fill="#1a9fcc" font-weight="bold" textLength="26.37" stroke="#1a9fcc" stroke-width="0.5">Sol.</text>
<text x="132.01" y="809.50" font-size="14.5" textLength="339.44" stroke="#141414" stroke-width="0.15">Using the results of hollow sphere as given in the table 7.4.</text>
<text x="131.15" y="851.90" fill="#1a9fcc" font-weight="bold" textLength="13.42" stroke="#1a9fcc" stroke-width="0.18">(i)</text>
<text x="183.75" y="850.90" font-size="14.8" textLength="9.73" lengthAdjust="spacingAndGlyphs" stroke="#141414" stroke-width="0.15">V</text>
<text x="193.92" y="856.30" font-size="8" stroke="#141414" stroke-width="0.14">A</text>
<text x="201.18" y="849.92" font-size="14.5" textLength="9.54" lengthAdjust="spacingAndGlyphs" stroke="#141414" stroke-width="0.45">=</text>
<rect x="214.20" y="844.80" width="28.00" height="1.0" fill="#141414"/>
<text x="215.79" y="839.50" font-size="14.8" textLength="20.46" lengthAdjust="spacingAndGlyphs" stroke="#141414" stroke-width="0.15">KQ</text>
<text x="236.84" y="842.70" font-size="7.5" stroke="#141414" stroke-width="0.14">1</text>
<text x="221.42" y="859.80" font-size="14" textLength="8.41" lengthAdjust="spacingAndGlyphs" stroke="#141414" stroke-width="0.15">R</text>
<text x="231.45" y="863.80" font-size="8.6" stroke="#141414" stroke-width="0.14">1</text>
<text x="247.07" y="850.26" font-size="12.5" textLength="7.94" lengthAdjust="spacingAndGlyphs" stroke="#141414" stroke-width="0.45">+</text>
<rect x="260.20" y="844.80" width="29.00" height="1.0" fill="#141414"/>
<text x="261.79" y="839.50" font-size="14.8" textLength="20.46" lengthAdjust="spacingAndGlyphs" stroke="#141414" stroke-width="0.15">KQ</text>
<text x="283.18" y="842.70" font-size="7.5" stroke="#141414" stroke-width="0.14">2</text>
<text x="267.22" y="859.80" font-size="14" textLength="8.41" lengthAdjust="spacingAndGlyphs" stroke="#141414" stroke-width="0.15">R</text>
<text x="277.63" y="863.80" font-size="8.6" stroke="#141414" stroke-width="0.14">2</text>
<text x="338.05" y="851.90" fill="#1a9fcc" font-weight="bold" textLength="17.63" stroke="#1a9fcc" stroke-width="0.18">(ii)</text>
<text x="391.25" y="850.90" font-size="14.8" textLength="9.73" lengthAdjust="spacingAndGlyphs" stroke="#141414" stroke-width="0.15">V</text>
<text x="400.88" y="856.30" font-size="8" stroke="#141414" stroke-width="0.14">B</text>
<text x="408.07" y="849.92" font-size="14.5" textLength="9.24" lengthAdjust="spacingAndGlyphs" stroke="#141414" stroke-width="0.45">=</text>
<rect x="422.30" y="844.80" width="27.50" height="1.0" fill="#141414"/>
<text x="423.29" y="839.50" font-size="14.8" textLength="20.46" lengthAdjust="spacingAndGlyphs" stroke="#141414" stroke-width="0.15">KQ</text>
<text x="444.34" y="842.70" font-size="7.5" stroke="#141414" stroke-width="0.14">1</text>
<text x="428.51" y="859.80" font-size="14" textLength="8.41" lengthAdjust="spacingAndGlyphs" stroke="#141414" stroke-width="0.15">R</text>
<text x="438.55" y="863.80" font-size="8.6" stroke="#141414" stroke-width="0.14">1</text>
<text x="454.98" y="850.26" font-size="12.5" textLength="8.94" lengthAdjust="spacingAndGlyphs" stroke="#141414" stroke-width="0.45">+</text>
<rect x="468.70" y="844.80" width="28.40" height="1.0" fill="#141414"/>
<text x="469.69" y="839.50" font-size="14.8" textLength="20.46" lengthAdjust="spacingAndGlyphs" stroke="#141414" stroke-width="0.15">KQ</text>
<text x="491.08" y="842.70" font-size="7.5" stroke="#141414" stroke-width="0.14">2</text>
<text x="474.92" y="859.80" font-size="14" textLength="8.41" lengthAdjust="spacingAndGlyphs" stroke="#141414" stroke-width="0.15">R</text>
<text x="485.33" y="863.80" font-size="8.6" stroke="#141414" stroke-width="0.14">2</text>
<text x="131.15" y="904.80" fill="#1a9fcc" font-weight="bold" textLength="21.99" stroke="#1a9fcc" stroke-width="0.18">(iii)</text>
<text x="183.75" y="903.90" font-size="14.8" textLength="9.73" lengthAdjust="spacingAndGlyphs" stroke="#141414" stroke-width="0.15">V</text>
<text x="193.28" y="909.70" font-size="8" stroke="#141414" stroke-width="0.14">C</text>
<text x="201.18" y="904.82" font-size="14.5" textLength="9.54" lengthAdjust="spacingAndGlyphs" stroke="#141414" stroke-width="0.45">=</text>
<rect x="214.80" y="898.50" width="28.10" height="1.0" fill="#141414"/>
<text x="216.39" y="893.60" font-size="14.8" textLength="20.46" lengthAdjust="spacingAndGlyphs" stroke="#141414" stroke-width="0.15">KQ</text>
<text x="237.44" y="896.80" font-size="7.5" stroke="#141414" stroke-width="0.14">1</text>
<text x="220.81" y="914.10" font-size="14" textLength="8.41" lengthAdjust="spacingAndGlyphs" stroke="#141414" stroke-width="0.15">R</text>
<text x="231.23" y="918.10" font-size="8.6" stroke="#141414" stroke-width="0.14">2</text>
<text x="247.97" y="904.66" font-size="12.5" textLength="7.84" lengthAdjust="spacingAndGlyphs" stroke="#141414" stroke-width="0.45">+</text>
<rect x="261.20" y="898.50" width="29.60" height="1.0" fill="#141414"/>
<text x="262.69" y="893.60" font-size="14.8" textLength="20.46" lengthAdjust="spacingAndGlyphs" stroke="#141414" stroke-width="0.15">KQ</text>
<text x="284.08" y="896.80" font-size="7.5" stroke="#141414" stroke-width="0.14">2</text>
<text x="268.01" y="914.10" font-size="14" textLength="8.41" lengthAdjust="spacingAndGlyphs" stroke="#141414" stroke-width="0.15">R</text>
<text x="278.43" y="918.10" font-size="8.6" stroke="#141414" stroke-width="0.14">2</text>
<text x="338.25" y="904.80" fill="#1a9fcc" font-weight="bold" textLength="19.42" stroke="#1a9fcc" stroke-width="0.18">(iv)</text>
<text x="390.64" y="904.00" textLength="46.39" stroke="#141414" stroke-width="0.15">for r ≤ R</text>
<text x="437.21" y="907.50" font-size="9" stroke="#141414" stroke-width="0.14">1</text>
<text x="443.93" y="904.00" stroke="#141414" stroke-width="0.15">,</text>
<text x="493.75" y="904.00" font-size="14.8" textLength="9.73" lengthAdjust="spacingAndGlyphs" stroke="#141414" stroke-width="0.15">V</text>
<text x="506.27" y="904.82" font-size="14.5" textLength="8.94" lengthAdjust="spacingAndGlyphs" stroke="#141414" stroke-width="0.45">=</text>
<rect x="522.50" y="898.50" width="28.60" height="1.0" fill="#141414"/>
<text x="524.29" y="893.60" font-size="14.8" textLength="20.46" lengthAdjust="spacingAndGlyphs" stroke="#141414" stroke-width="0.15">KQ</text>
<text x="545.34" y="896.80" font-size="7.5" stroke="#141414" stroke-width="0.14">1</text>
<text x="529.41" y="914.00" font-size="14" textLength="8.41" lengthAdjust="spacingAndGlyphs" stroke="#141414" stroke-width="0.15">R</text>
<text x="539.45" y="918.00" font-size="8.6" stroke="#141414" stroke-width="0.14">1</text>
<text x="559.08" y="904.66" font-size="12.5" textLength="9.54" lengthAdjust="spacingAndGlyphs" stroke="#141414" stroke-width="0.45">+</text>
<rect x="573.40" y="898.50" width="29.60" height="1.0" fill="#141414"/>
<text x="574.59" y="893.60" font-size="14.8" textLength="20.46" lengthAdjust="spacingAndGlyphs" stroke="#141414" stroke-width="0.15">KQ</text>
<text x="595.98" y="896.80" font-size="7.5" stroke="#141414" stroke-width="0.14">2</text>
<text x="579.41" y="914.00" font-size="14" textLength="8.41" lengthAdjust="spacingAndGlyphs" stroke="#141414" stroke-width="0.15">R</text>
<text x="589.83" y="918.00" font-size="8.6" stroke="#141414" stroke-width="0.14">2</text>
<text x="131.05" y="960.00" fill="#1a9fcc" font-weight="bold" textLength="14.62" stroke="#1a9fcc" stroke-width="0.18">(v)</text>
<text x="184.14" y="959.20" textLength="14.89" stroke="#141414" stroke-width="0.15">for</text>
<text x="201.58" y="959.20" stroke="#141414" stroke-width="0.15">R</text>
<text x="218.25" y="959.20" stroke="#141414" stroke-width="0.15">≤</text>
<text x="229.29" y="959.20" stroke="#141414" stroke-width="0.15">r</text>
<text x="236.65" y="959.20" stroke="#141414" stroke-width="0.15">≤</text>
<text x="247.58" y="959.20" stroke="#141414" stroke-width="0.15">R</text>
<text x="211.91" y="964.40" font-size="9" stroke="#141414" stroke-width="0.14">1</text>
<text x="257.02" y="964.40" font-size="9" stroke="#141414" stroke-width="0.14">2</text>
<text x="286.43" y="960.00" stroke="#141414" stroke-width="0.15">,</text>
<text x="339.15" y="958.60" font-size="14.8" textLength="9.43" lengthAdjust="spacingAndGlyphs" stroke="#141414" stroke-width="0.15">V</text>
<text x="351.07" y="959.32" font-size="14.5" textLength="8.94" lengthAdjust="spacingAndGlyphs" stroke="#141414" stroke-width="0.45">=</text>
<rect x="367.50" y="954.00" width="28.20" height="1.0" fill="#141414"/>
<text x="369.09" y="948.40" font-size="14.8" textLength="20.46" lengthAdjust="spacingAndGlyphs" stroke="#141414" stroke-width="0.15">KQ</text>
<text x="390.14" y="951.60" font-size="7.5" stroke="#141414" stroke-width="0.14">1</text>
<text x="379.25" y="969.50" font-size="14.8" stroke="#141414" stroke-width="0.15">r</text>
<text x="400.27" y="959.36" font-size="12.5" textLength="9.14" lengthAdjust="spacingAndGlyphs" stroke="#141414" stroke-width="0.45">+</text>
<rect x="414.80" y="952.70" width="28.40" height="1.0" fill="#141414"/>
<text x="416.19" y="947.00" font-size="14.8" textLength="20.46" lengthAdjust="spacingAndGlyphs" stroke="#141414" stroke-width="0.15">KQ</text>
<text x="437.58" y="950.20" font-size="7.5" stroke="#141414" stroke-width="0.14">2</text>
<text x="420.72" y="967.50" font-size="14" textLength="8.41" lengthAdjust="spacingAndGlyphs" stroke="#141414" stroke-width="0.15">R</text>
<text x="431.13" y="971.50" font-size="8.6" stroke="#141414" stroke-width="0.14">2</text>
<text x="131.05" y="1012.80" fill="#1a9fcc" font-weight="bold" textLength="18.62" stroke="#1a9fcc" stroke-width="0.18">(vi)</text>
<text x="183.64" y="1012.80" textLength="15.39" stroke="#141414" stroke-width="0.15">for</text>
<text x="202.19" y="1012.80" stroke="#141414" stroke-width="0.15">r</text>
<text x="209.09" y="1012.80" stroke="#141414" stroke-width="0.15">≥</text>
<text x="220.48" y="1012.80" stroke="#141414" stroke-width="0.15">R</text>
<text x="229.92" y="1017.90" font-size="9" stroke="#141414" stroke-width="0.14">2</text>
<text x="286.43" y="1012.80" stroke="#141414" stroke-width="0.15">,</text>
<text x="339.15" y="1012.30" font-size="14.8" textLength="9.43" lengthAdjust="spacingAndGlyphs" stroke="#141414" stroke-width="0.15">V</text>
<text x="350.77" y="1012.92" font-size="14.5" textLength="8.94" lengthAdjust="spacingAndGlyphs" stroke="#141414" stroke-width="0.45">=</text>
<rect x="365.00" y="1007.50" width="27.00" height="1.0" fill="#141414"/>
<text x="366.39" y="1001.60" font-size="14.8" textLength="20.46" lengthAdjust="spacingAndGlyphs" stroke="#141414" stroke-width="0.15">KQ</text>
<text x="387.44" y="1004.80" font-size="7.5" stroke="#141414" stroke-width="0.14">1</text>
<text x="376.65" y="1022.60" font-size="14.8" stroke="#141414" stroke-width="0.15">r</text>
<text x="398.07" y="1013.26" font-size="12.5" textLength="8.54" lengthAdjust="spacingAndGlyphs" stroke="#141414" stroke-width="0.45">+</text>
<rect x="411.80" y="1007.50" width="28.20" height="1.0" fill="#141414"/>
<text x="413.29" y="1001.60" font-size="14.8" textLength="20.46" lengthAdjust="spacingAndGlyphs" stroke="#141414" stroke-width="0.15">KQ</text>
<text x="434.68" y="1004.80" font-size="7.5" stroke="#141414" stroke-width="0.14">2</text>
<text x="422.45" y="1022.60" font-size="14.8" stroke="#141414" stroke-width="0.15">r</text>
</svg>
</body></html>
